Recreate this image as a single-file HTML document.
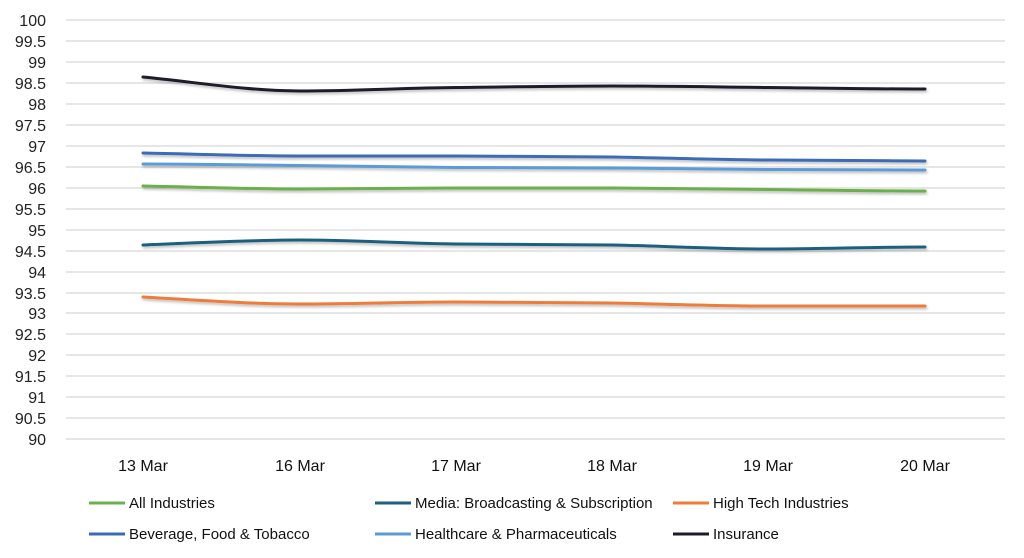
<!DOCTYPE html>
<html><head><meta charset="utf-8"><style>
body{margin:0;background:#fff;}
svg{display:block;font-family:"Liberation Sans",sans-serif;}
</style></head><body>
<svg width="1024" height="558" viewBox="0 0 1024 558" xmlns="http://www.w3.org/2000/svg">
<defs><filter id="sh" x="-5%" y="-50%" width="110%" height="200%"><feDropShadow dx="1" dy="2" stdDeviation="1.2" flood-color="#000" flood-opacity="0.25"/></filter></defs>
<g stroke="#e6e6e6" stroke-width="2">
<line x1="66" x2="1005" y1="20" y2="20"/><line x1="66" x2="1005" y1="41" y2="41"/><line x1="66" x2="1005" y1="62" y2="62"/><line x1="66" x2="1005" y1="83" y2="83"/><line x1="66" x2="1005" y1="104" y2="104"/><line x1="66" x2="1005" y1="125" y2="125"/><line x1="66" x2="1005" y1="146" y2="146"/><line x1="66" x2="1005" y1="167" y2="167"/><line x1="66" x2="1005" y1="188" y2="188"/><line x1="66" x2="1005" y1="209" y2="209"/><line x1="66" x2="1005" y1="230" y2="230"/><line x1="66" x2="1005" y1="251" y2="251"/><line x1="66" x2="1005" y1="272" y2="272"/><line x1="66" x2="1005" y1="293" y2="293"/><line x1="66" x2="1005" y1="313" y2="313"/><line x1="66" x2="1005" y1="334" y2="334"/><line x1="66" x2="1005" y1="355" y2="355"/><line x1="66" x2="1005" y1="376" y2="376"/><line x1="66" x2="1005" y1="397" y2="397"/><line x1="66" x2="1005" y1="418" y2="418"/><line x1="66" x2="1005" y1="439" y2="439"/>
</g>
<g font-size="16" fill="#222" text-anchor="end">
<text x="46" y="26">100</text><text x="46" y="47">99.5</text><text x="46" y="68">99</text><text x="46" y="89">98.5</text><text x="46" y="110">98</text><text x="46" y="131">97.5</text><text x="46" y="152">97</text><text x="46" y="173">96.5</text><text x="46" y="194">96</text><text x="46" y="215">95.5</text><text x="46" y="236">95</text><text x="46" y="257">94.5</text><text x="46" y="278">94</text><text x="46" y="299">93.5</text><text x="46" y="319">93</text><text x="46" y="340">92.5</text><text x="46" y="361">92</text><text x="46" y="382">91.5</text><text x="46" y="403">91</text><text x="46" y="424">90.5</text><text x="46" y="445">90</text>
</g>
<g font-size="16" fill="#111" text-anchor="middle">
<text x="143" y="471">13 Mar</text><text x="300" y="471">16 Mar</text><text x="456" y="471">17 Mar</text><text x="612" y="471">18 Mar</text><text x="768" y="471">19 Mar</text><text x="925" y="471">20 Mar</text>
</g>
<g fill="none" stroke-width="3" stroke-linecap="round" filter="url(#sh)">
<path stroke="#1c1c2b" d="M143,77 C195,82 248,91 300,91 C352,91 404,88 456,87.5 C508,87 560,86 612,86 C664,86 716,87 768,87.5 C820,88 872,89 925,89"/>
<path stroke="#3a6cb5" d="M143,153 C195,154 248,156 300,156 C352,156 404,156 456,156 C508,156 560,156.5 612,157 C664,158 716,159.5 768,160 C820,160.5 872,161 925,161"/>
<path stroke="#5b9bd5" d="M143,164 C195,164 248,165 300,165.5 C352,166 404,167 456,167.5 C508,168 560,168 612,168 C664,168.5 716,169 768,169.5 C820,170 872,170 925,170"/>
<path stroke="#6ab04c" d="M143,186 C195,187 248,189 300,189 C352,189 404,188 456,188 C508,188 560,188 612,188 C664,188.5 716,189 768,189.5 C820,190 872,191 925,191"/>
<path stroke="#1f5f7f" d="M143,245 C195,243 248,240 300,240 C352,240 404,243.5 456,244 C508,244.5 560,244.5 612,245 C664,246 716,249 768,249 C820,249 872,247 925,247"/>
<path stroke="#f07b3a" d="M143,297 C195,300 248,304 300,304 C352,304 404,302 456,302 C508,302 560,302.5 612,303 C664,304 716,306 768,306 C820,306 872,306 925,306"/>
</g>
<g stroke-width="3">
<line x1="89" x2="125" y1="503" y2="503" stroke="#6ab04c"/>
<line x1="375" x2="411" y1="503" y2="503" stroke="#1f5f7f"/>
<line x1="673" x2="709" y1="503" y2="503" stroke="#f07b3a"/>
<line x1="89" x2="125" y1="534" y2="534" stroke="#3a6cb5"/>
<line x1="375" x2="411" y1="534" y2="534" stroke="#5b9bd5"/>
<line x1="673" x2="709" y1="534" y2="534" stroke="#1c1c2b"/>
</g>
<g font-size="15" fill="#111">
<text x="129" y="508">All Industries</text>
<text x="415" y="508">Media: Broadcasting &amp; Subscription</text>
<text x="713" y="508">High Tech Industries</text>
<text x="129" y="539">Beverage, Food &amp; Tobacco</text>
<text x="415" y="539">Healthcare &amp; Pharmaceuticals</text>
<text x="713" y="539">Insurance</text>
</g>
</svg>
</body></html>
